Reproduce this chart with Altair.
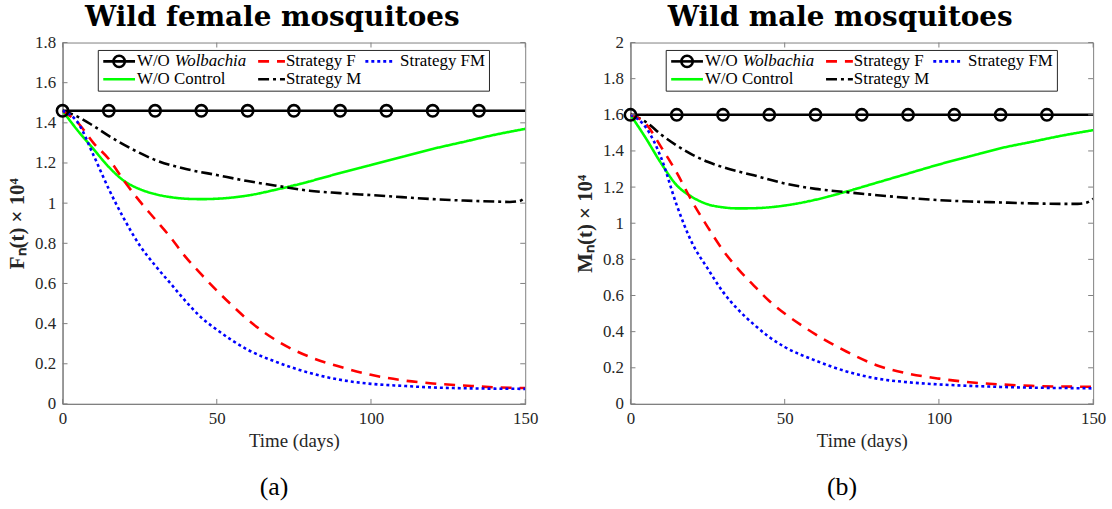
import altair as alt
import pandas as pd

# ---------------- data ----------------
SERIES = ["W/O Wolbachia", "W/O Control", "Strategy M", "Strategy F", "Strategy FM"]
COLORS = ["#000000", "#00ff00", "#000000", "#ff0000", "#0000ff"]
DASHES = [[1, 0], [1, 0], [11, 4, 3, 4], [11, 8], [3, 3]]

X_TICKS = [0, 50, 100, 150]
Y_TICKS_F = [0, 0.2, 0.4, 0.6, 0.8, 1.0, 1.2, 1.4, 1.6, 1.8]
Y_TICKS_M = [0, 0.2, 0.4, 0.6, 0.8, 1.0, 1.2, 1.4, 1.6, 1.8, 2.0]
MARKER_T = [0, 15, 30, 45, 60, 75, 90, 105, 120, 135]

# Female panel
t_wol_f = [0, 150]
wol_f = [1.46, 1.46]
t_ctrl_f = [0, 5, 10, 15, 20, 25, 30, 35, 40, 45, 50, 55, 60, 70, 77, 80, 90, 100, 110, 120, 130, 140, 150]
ctrl_f = [1.46, 1.36, 1.27, 1.18, 1.11, 1.07, 1.045, 1.03, 1.022, 1.02, 1.022, 1.028, 1.038, 1.07, 1.096, 1.108, 1.15, 1.19, 1.23, 1.27, 1.305, 1.34, 1.37]
t_m_f = [0, 5, 10, 15, 20, 25, 30, 40, 50, 60, 70, 80, 90, 100, 110, 120, 130, 140, 145, 148, 150]
m_f = [1.46, 1.43, 1.385, 1.335, 1.29, 1.25, 1.215, 1.17, 1.14, 1.11, 1.085, 1.062, 1.05, 1.04, 1.03, 1.02, 1.013, 1.008, 1.006, 1.01, 1.028]
t_s_f = [0, 5, 10, 15, 20, 25, 30, 35, 40, 45, 50, 55, 60, 70, 80, 90, 100, 110, 120, 130, 140, 150]
sf_f = [1.46, 1.40, 1.30, 1.22, 1.11, 1.01, 0.92, 0.83, 0.73, 0.645, 0.565, 0.49, 0.42, 0.31, 0.235, 0.185, 0.145, 0.118, 0.102, 0.092, 0.083, 0.079]
t_fm_f = [0, 5, 10, 15, 20, 25, 30, 35, 40, 45, 50, 60, 70, 80, 90, 100, 110, 120, 130, 140, 150]
fm_f = [1.46, 1.40, 1.24, 1.07, 0.92, 0.79, 0.69, 0.60, 0.51, 0.43, 0.37, 0.27, 0.205, 0.155, 0.12, 0.10, 0.09, 0.082, 0.078, 0.076, 0.075]

# Male panel
t_wol_m = [0, 150]
wol_m = [1.6, 1.6]
t_ctrl_m = [0, 5, 10, 15, 20, 25, 30, 35, 40, 45, 50, 60, 70, 80, 90, 100, 110, 120, 130, 140, 150]
ctrl_m = [1.6, 1.47, 1.33, 1.21, 1.145, 1.105, 1.088, 1.082, 1.083, 1.088, 1.098, 1.13, 1.175, 1.225, 1.275, 1.325, 1.37, 1.415, 1.45, 1.485, 1.515]
t_m_m = [0, 5, 10, 15, 20, 25, 30, 40, 50, 60, 70, 80, 90, 100, 110, 120, 130, 140, 145, 148, 150]
m_m = [1.6, 1.56, 1.49, 1.43, 1.38, 1.34, 1.31, 1.265, 1.22, 1.19, 1.172, 1.155, 1.14, 1.128, 1.12, 1.115, 1.11, 1.107, 1.107, 1.115, 1.135]
t_s_m = [0, 5, 10, 15, 20, 25, 30, 35, 40, 45, 50, 55, 60, 70, 80, 90, 100, 110, 120, 130, 140, 150]
sf_m = [1.6, 1.55, 1.42, 1.28, 1.12, 0.98, 0.85, 0.745, 0.655, 0.57, 0.50, 0.44, 0.385, 0.29, 0.213, 0.168, 0.14, 0.12, 0.108, 0.10, 0.096, 0.095]
t_fm_m = [0, 5, 10, 15, 20, 25, 30, 35, 40, 45, 50, 60, 70, 80, 90, 100, 110, 120, 130, 140, 150]
fm_m = [1.6, 1.53, 1.36, 1.10, 0.89, 0.75, 0.62, 0.52, 0.44, 0.37, 0.315, 0.24, 0.18, 0.14, 0.12, 0.108, 0.10, 0.094, 0.09, 0.088, 0.086]

W, H = 466, 364
SERIF = "'Liberation Serif', 'Times New Roman', serif"
AXIS_GRAY = "#808080"
LABEL_COL = "#262626"


def long_df(pairs):
    rows = []
    for name, ts, vs in pairs:
        for t, v in zip(ts, vs):
            rows.append({"t": t, "v": v, "series": name})
    return pd.DataFrame(rows)


def panel(pairs, wol_level, y_ticks, y_max, title, ytitle, cap):
    df = long_df(pairs)
    xs = alt.Scale(domain=[0, 150], nice=False)
    ys = alt.Scale(domain=[0, y_max], nice=False)
    x_axis = alt.Axis(values=X_TICKS, format="d", ticks=False, grid=False,
                      labelPadding=7, labelFlush=False, labelOverlap=False,
                      title="Time (days)", titlePadding=5,
                      titleFontSize=19, titleFontWeight="normal")
    y_axis = alt.Axis(values=y_ticks, format=".1~f", ticks=False, grid=False,
                      labelPadding=7, labelFlush=False, labelOverlap=False,
                      title=ytitle, titlePadding=7,
                      titleFontSize=21, titleFontWeight="bold")
    X = lambda: alt.X("t:Q", scale=xs, axis=x_axis)
    Y = lambda: alt.Y("v:Q", scale=ys, axis=y_axis)

    lines = alt.Chart(df).mark_line(strokeWidth=2.6, interpolate="monotone", clip=True).encode(
        x=X(), y=Y(),
        color=alt.Color("series:N", scale=alt.Scale(domain=SERIES, range=COLORS), legend=None),
        strokeDash=alt.StrokeDash("series:N", scale=alt.Scale(domain=SERIES, range=DASHES), legend=None),
        order=alt.Order("t:Q"),
    )

    mdf = pd.DataFrame({"t": MARKER_T, "v": [wol_level] * len(MARKER_T)})
    markers = alt.Chart(mdf).mark_point(shape="circle", size=130, strokeWidth=2.6,
                                        color="#000000", filled=False, opacity=1).encode(
        x=X(), y=Y())

    # inward ticks
    xt = pd.DataFrame({"t": X_TICKS})
    yt = pd.DataFrame({"v": y_ticks})
    tk = dict(color=AXIS_GRAY, strokeWidth=1)
    xb = alt.Chart(xt).mark_rule(**tk).encode(x=X(), y=alt.value(H), y2=alt.value(H - 5))
    xtp = alt.Chart(xt).mark_rule(**tk).encode(x=X(), y=alt.value(0), y2=alt.value(5))
    yl = alt.Chart(yt).mark_rule(**tk).encode(y=Y(), x=alt.value(0), x2=alt.value(5))
    yr = alt.Chart(yt).mark_rule(**tk).encode(y=Y(), x=alt.value(W - 5), x2=alt.value(W))

    # legend (drawn manually)
    one = pd.DataFrame({"k": [0]})
    base = alt.Chart(one)
    r1, r2 = 19, 37
    leg = [
        base.mark_rect(fill="white", stroke="#262626", strokeWidth=1).encode(
            x=alt.value(36), x2=alt.value(430), y=alt.value(8), y2=alt.value(49)),
        base.mark_rule(color="#000000", strokeWidth=2.6).encode(
            x=alt.value(41), x2=alt.value(73), y=alt.value(r1)),
        base.mark_point(shape="circle", size=130, strokeWidth=2.6, color="#000000", filled=False, opacity=1).encode(
            x=alt.value(57), y=alt.value(r1)),
        base.mark_rule(color="#00ff00", strokeWidth=2.6).encode(
            x=alt.value(41), x2=alt.value(73), y=alt.value(r2)),
        base.mark_rule(color="#ff0000", strokeWidth=2.6, strokeDash=[11, 8]).encode(
            x=alt.value(197), x2=alt.value(224), y=alt.value(r1)),
        base.mark_rule(color="#000000", strokeWidth=2.6, strokeDash=[11, 4, 3, 4]).encode(
            x=alt.value(197), x2=alt.value(224), y=alt.value(r2)),
        base.mark_rule(color="#0000ff", strokeWidth=2.6, strokeDash=[3, 3]).encode(
            x=alt.value(305), x2=alt.value(335), y=alt.value(r1)),
    ]
    txt = dict(font=SERIF, fontSize=17, align="left", baseline="middle", color="#000000")
    for label, xx, yy, style in [("W/O", 75, r1, "normal"), ("Wolbachia", 113, r1, "italic"),
                                 ("W/O Control", 75, r2, "normal"),
                                 ("Strategy F", 225, r1, "normal"), ("Strategy M", 225, r2, "normal"),
                                 ("Strategy FM", 340, r1, "normal")]:
        leg.append(base.mark_text(fontStyle=style, **txt).encode(
            text=alt.value(label), x=alt.value(xx), y=alt.value(yy)))

    capdf = pd.DataFrame({"c": [cap]})
    caption = alt.Chart(capdf).mark_text(font=SERIF, fontSize=26, color="#000000",
                                          align="center", baseline="middle").encode(
        text="c:N", x=alt.value(W / 2 - 20), y=alt.value(H + 84))

    return alt.layer(lines, markers, xb, xtp, yl, yr, *leg, caption).properties(
        width=W, height=H,
        title=alt.TitleParams(title, fontSize=28, font="DejaVu Serif", fontWeight="bold",
                              anchor="middle", frame="bounds", offset=2, color="#000000"),
    )


left = panel([("W/O Wolbachia", t_wol_f, wol_f), ("W/O Control", t_ctrl_f, ctrl_f),
              ("Strategy M", t_m_f, m_f), ("Strategy F", t_s_f, sf_f), ("Strategy FM", t_fm_f, fm_f)],
             1.46, Y_TICKS_F, 1.8, "Wild female mosquitoes", "Fₙ(t) × 10⁴", "(a)")
right = panel([("W/O Wolbachia", t_wol_m, wol_m), ("W/O Control", t_ctrl_m, ctrl_m),
               ("Strategy M", t_m_m, m_m), ("Strategy F", t_s_m, sf_m), ("Strategy FM", t_fm_m, fm_m)],
              1.6, Y_TICKS_M, 2.0, "Wild male mosquitoes", "Mₙ(t) × 10⁴", "(b)")

chart = alt.hconcat(left, right, spacing=35).configure(
    padding={"left": 6, "top": 1, "right": 5, "bottom": 5},
    background="white",
).configure_view(
    stroke=AXIS_GRAY, strokeWidth=1
).configure_axis(
    labelFont=SERIF, titleFont=SERIF, labelFontSize=17, labelColor=LABEL_COL,
    titleColor="#262626", domainColor=AXIS_GRAY, domainWidth=1.2,
)

chart.save("out.html", embed_options={"renderer": "svg", "actions": False})
